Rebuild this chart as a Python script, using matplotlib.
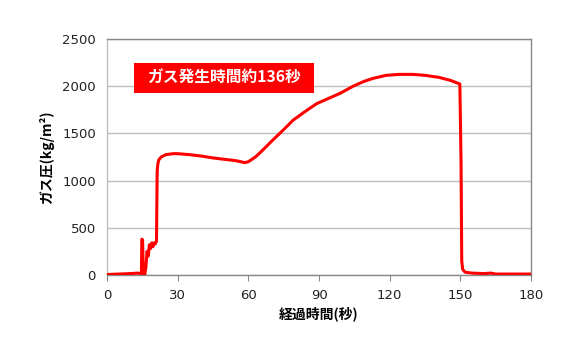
import matplotlib
matplotlib.use("Agg")
import matplotlib.pyplot as plt
from matplotlib.patches import Rectangle

plt.rcParams['font.family'] = ['Noto Sans CJK JP', 'DejaVu Sans']

time_s = [0, 5, 10, 13, 14.6, 14.8, 15.1, 15.4, 15.7, 16.0, 16.5, 17.0, 17.5, 18.0, 18.5, 19.0,
          19.5, 20.0, 20.5, 21.0, 21.3, 21.6, 22.0, 23.0, 25.0, 28.0, 30.0, 35.0, 40.0, 45.0,
          50.0, 55.0, 58.5, 60.0, 63.0, 66.0, 70.0, 75.0, 79.0, 84.0, 89.0, 94.0, 99.0, 104.5,
          109.0, 113.0, 118.5, 124.0, 130.0, 135.0, 141.0, 146.0, 149.8, 150.3, 150.6,
          151.0, 152.0, 155.0, 160.0, 163.0, 165.0, 170.0, 180.0]
pressure = [5, 10, 15, 20, 15, 380, 370, 20, 0, 0, 80, 250, 200, 320, 280, 340, 300, 340, 330,
            360, 1100, 1180, 1220, 1250, 1275, 1285, 1285, 1275, 1260, 1240, 1225, 1210, 1190,
            1200, 1250, 1320, 1420, 1540, 1640, 1730, 1815, 1870, 1925, 2000, 2050, 2083, 2115,
            2125, 2125, 2115, 2093, 2060, 2023, 1200, 150, 60, 30, 20, 15, 20, 10, 10, 10]

x_ticks = [0, 30, 60, 90, 120, 150, 180]
y_ticks = [0, 500, 1000, 1500, 2000, 2500]
x_label = "経過時間(秒)"
y_label = "ガス圧(kg/m²)"
note = "ガス発生時間約136秒"

fig = plt.figure(figsize=(5.8, 3.5), dpi=100)
ax = fig.add_axes([0.1845, 0.2143, 0.7310, 0.6743])

ax.plot(time_s, pressure, color='#FF0000', linewidth=2.2, solid_joinstyle='round', zorder=3)

ax.set_xlim(0, 180)
ax.set_ylim(0, 2500)
ax.set_xticks(x_ticks)
ax.set_yticks(y_ticks)
ax.yaxis.grid(True, color='#BFBFBF', linewidth=1.0)
ax.set_axisbelow(True)
for s in ax.spines.values():
    s.set_color('#888888')
    s.set_linewidth(1.0)
ax.spines['left'].set_color('#BFBFBF')
ax.tick_params(axis='y', length=0, pad=8, labelsize=9.5, colors='#222222')
ax.tick_params(axis='x', length=4, direction='out', color='#888888', pad=6, labelsize=9.5, colors='#222222')
for lab in ax.get_xticklabels() + ax.get_yticklabels():
    lab.set_family(['DejaVu Sans'])

ax.set_xlabel(x_label, fontsize=10, fontweight='bold', labelpad=3)
ax.set_ylabel(y_label, fontsize=10, fontweight='bold', labelpad=6)

ax.add_patch(Rectangle((0.0637, 0.771), 0.4245, 0.127, transform=ax.transAxes,
                       facecolor='#FF0000', edgecolor='none', zorder=4))
ax.text(0.276, 0.836, note, transform=ax.transAxes, color='white', fontsize=11.3,
        fontweight='bold', ha='center', va='center', zorder=5)

fig.savefig('out.png', dpi=100)
